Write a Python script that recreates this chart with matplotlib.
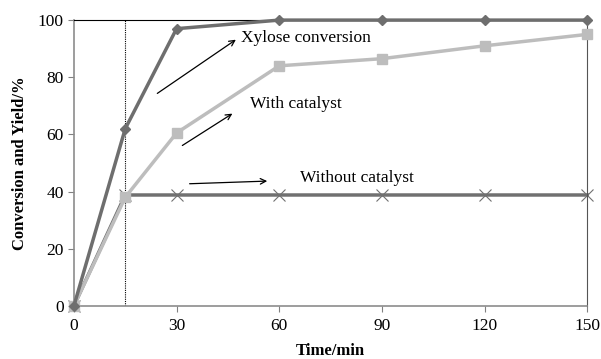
import matplotlib
matplotlib.use("Agg")
import matplotlib.pyplot as plt

# data
time = [0, 15, 30, 60, 90, 120, 150]
xylose_conv = [0, 62, 97, 100, 100, 100, 100]
with_cat = [0, 38, 60.5, 84, 86.5, 91, 95]
without_cat = [0, 38.8, 38.8, 38.8, 38.8, 38.8, 38.8]

plt.rcParams['font.family'] = ['Liberation Serif', 'DejaVu Serif']

fig = plt.figure(figsize=(6.01, 3.59), dpi=100)
ax = fig.add_axes([0.123, 0.148, 0.854, 0.796])

ax.plot(time, with_cat, color='#bdbdbd', lw=2.5, marker='s', ms=7,
        zorder=3, clip_on=False)
ax.plot(time, without_cat, color='#707070', lw=2.5, marker='x', ms=8,
        mew=0.8, zorder=2, clip_on=False)
ax.plot(time, xylose_conv, color='#6e6e6e', lw=2.5, marker='D', ms=5,
        zorder=4, clip_on=False)

ax.axvline(15, color='black', lw=0.8, ls=(0, (1, 1)), zorder=1)

# annotations
arrow = dict(arrowstyle='->', color='black', lw=0.9)
ax.annotate('', xy=(48, 93.7), xytext=(23.7, 73.8), arrowprops=arrow)
ax.text(48.8, 93.7, 'Xylose conversion', fontsize=12.5, va='center')
ax.annotate('', xy=(47, 67.8), xytext=(31, 55.6), arrowprops=arrow)
ax.text(51.5, 70.5, 'With catalyst', fontsize=12.5, va='center')
ax.annotate('', xy=(57.3, 43.7), xytext=(33, 42.7), arrowprops=arrow)
ax.text(66, 44.8, 'Without catalyst', fontsize=12.5, va='center')

ax.set_xlim(0, 150)
ax.set_ylim(0, 100)
ax.set_xticks([0, 30, 60, 90, 120, 150])
ax.set_yticks([0, 20, 40, 60, 80, 100])
ax.tick_params(labelsize=12.5, color='#808080', length=4, width=0.8)
ax.tick_params(axis='x', pad=5)

for s in ['left', 'bottom']:
    ax.spines[s].set_color('#8c8c8c')
    ax.spines[s].set_linewidth(1.2)
ax.spines['top'].set_color('black')
ax.spines['top'].set_linewidth(0.8)
ax.spines['right'].set_color('#555555')
ax.spines['right'].set_linewidth(0.8)

ax.set_xlabel('Time/min', fontsize=12, fontweight='bold', labelpad=6)
ax.set_ylabel('Conversion and Yield/%', fontsize=12, fontweight='bold', labelpad=7)

fig.savefig('out.png', dpi=100)
